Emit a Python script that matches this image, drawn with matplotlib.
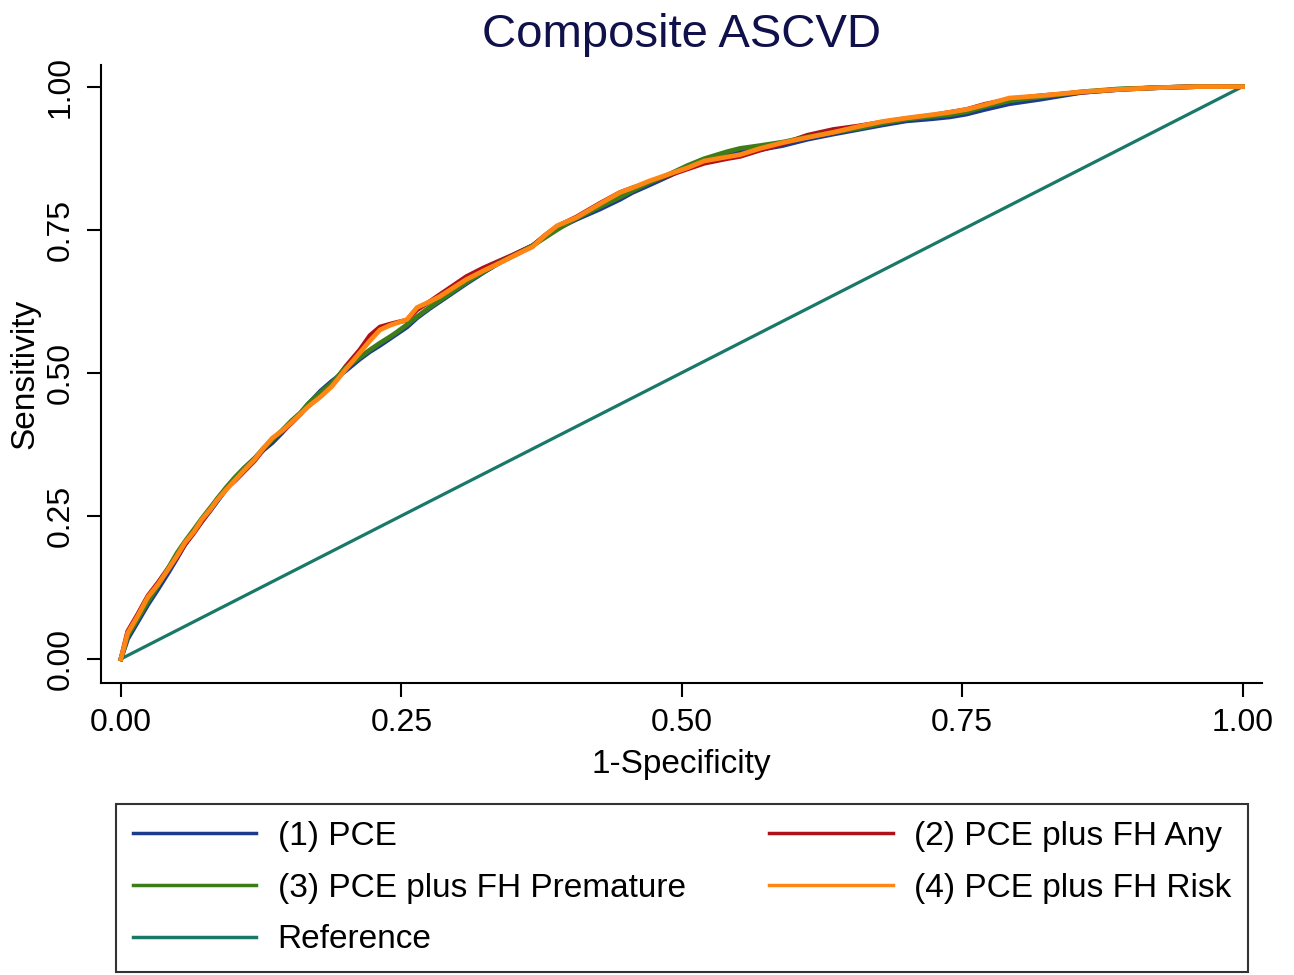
import matplotlib
matplotlib.use('Agg')
import matplotlib.pyplot as plt

plt.rcParams['font.family'] = ['Liberation Sans', 'DejaVu Sans']

# 1-Specificity grid shared by the four ROC curves
fpr = [0, 0.006, 0.015, 0.024, 0.033, 0.042, 0.050, 0.057, 0.065, 0.072,
       0.080, 0.086, 0.094, 0.102, 0.110, 0.119, 0.127, 0.135, 0.144, 0.152,
       0.160, 0.167, 0.178, 0.188, 0.200, 0.213, 0.222, 0.231, 0.240, 0.246,
       0.255, 0.264, 0.275, 0.284, 0.296, 0.308, 0.323, 0.338, 0.352, 0.367,
       0.378, 0.389, 0.406, 0.427, 0.445, 0.456, 0.471, 0.490, 0.505, 0.520,
       0.540, 0.552, 0.570, 0.590, 0.612, 0.635, 0.657, 0.679, 0.700, 0.724,
       0.739, 0.754, 0.770, 0.792, 0.820, 0.857, 0.890, 0.923, 0.960, 1.0]

sens_pce = [0, 0.035, 0.065, 0.095, 0.122, 0.150, 0.176, 0.200, 0.222, 0.240,
            0.260, 0.276, 0.297, 0.316, 0.333, 0.350, 0.365, 0.378, 0.396, 0.414,
            0.428, 0.445, 0.468, 0.485, 0.503, 0.524, 0.537, 0.548, 0.560, 0.568,
            0.580, 0.596, 0.612, 0.624, 0.640, 0.656, 0.675, 0.693, 0.708, 0.722,
            0.738, 0.752, 0.768, 0.786, 0.803, 0.815, 0.828, 0.845, 0.860, 0.872,
            0.882, 0.886, 0.890, 0.897, 0.908, 0.917, 0.925, 0.933, 0.940, 0.944,
            0.947, 0.952, 0.960, 0.970, 0.978, 0.990, 0.995, 0.998, 1.0, 1.0]

sens_any = [0, 0.048, 0.078, 0.110, 0.133, 0.158, 0.178, 0.200, 0.220, 0.240,
            0.262, 0.280, 0.298, 0.312, 0.328, 0.346, 0.366, 0.384, 0.398, 0.412,
            0.428, 0.442, 0.460, 0.478, 0.510, 0.540, 0.565, 0.580, 0.585, 0.588,
            0.592, 0.610, 0.624, 0.636, 0.652, 0.668, 0.683, 0.696, 0.708, 0.722,
            0.740, 0.756, 0.772, 0.796, 0.815, 0.823, 0.833, 0.846, 0.856, 0.866,
            0.874, 0.878, 0.889, 0.900, 0.915, 0.925, 0.931, 0.938, 0.944, 0.950,
            0.955, 0.960, 0.969, 0.978, 0.984, 0.990, 0.995, 0.998, 1.0, 1.0]

sens_premature = [0, 0.040, 0.070, 0.100, 0.128, 0.158, 0.185, 0.205, 0.226, 0.245,
                  0.265, 0.280, 0.300, 0.318, 0.334, 0.350, 0.368, 0.383, 0.400, 0.416,
                  0.430, 0.446, 0.466, 0.482, 0.508, 0.527, 0.540, 0.552, 0.563, 0.571,
                  0.584, 0.598, 0.614, 0.626, 0.642, 0.658, 0.676, 0.693, 0.706, 0.722,
                  0.736, 0.750, 0.770, 0.790, 0.807, 0.818, 0.832, 0.848, 0.862, 0.874,
                  0.886, 0.892, 0.897, 0.903, 0.912, 0.920, 0.927, 0.936, 0.943, 0.948,
                  0.951, 0.956, 0.965, 0.975, 0.982, 0.991, 0.996, 0.998, 1.0, 1.0]

sens_risk = [0, 0.045, 0.075, 0.108, 0.130, 0.156, 0.180, 0.203, 0.222, 0.243,
             0.262, 0.278, 0.296, 0.313, 0.330, 0.348, 0.368, 0.386, 0.399, 0.413,
             0.428, 0.441, 0.458, 0.476, 0.505, 0.535, 0.556, 0.575, 0.583, 0.587,
             0.593, 0.614, 0.624, 0.633, 0.648, 0.663, 0.678, 0.692, 0.706, 0.720,
             0.740, 0.757, 0.771, 0.795, 0.815, 0.823, 0.835, 0.848, 0.858, 0.870,
             0.877, 0.881, 0.892, 0.902, 0.911, 0.920, 0.930, 0.939, 0.945, 0.951,
             0.955, 0.960, 0.968, 0.980, 0.984, 0.991, 0.995, 0.998, 1.0, 1.0]

ref_x = [0, 1]
ref_y = [0, 1]

labels = ['(1) PCE', '(2) PCE plus FH Any', '(3) PCE plus FH Premature',
          '(4) PCE plus FH Risk', 'Reference']
colors = ['#1c3a8e', '#b01018', '#3d7d17', '#ff8614', '#197868']

fig = plt.figure(figsize=(12.94, 9.75), dpi=100)
ax = fig.add_axes([0.078, 0.2995, 0.897, 0.634])

h_ref, = ax.plot(ref_x, ref_y, color=colors[4], lw=2.3, label=labels[4])
h1, = ax.plot(fpr, sens_pce, color=colors[0], lw=3.4, label=labels[0])
h2, = ax.plot(fpr, sens_any, color=colors[1], lw=3.4, label=labels[1])
h3, = ax.plot(fpr, sens_premature, color=colors[2], lw=3.4, label=labels[2])
h4, = ax.plot(fpr, sens_risk, color=colors[3], lw=3.4, label=labels[3])

ax.set_xlim(-0.0178, 1.017)
ax.set_ylim(-0.042, 1.038)
ticks = [0, 0.25, 0.5, 0.75, 1.0]
ax.set_xticks(ticks)
ax.set_yticks(ticks)
ax.set_xticklabels(['0.00', '0.25', '0.50', '0.75', '1.00'])
ax.set_yticklabels(['0.00', '0.25', '0.50', '0.75', '1.00'],
                   rotation=90, va='center')
ax.tick_params(axis='both', length=10, width=1.5, labelsize=23, color='black')
ax.tick_params(axis='x', pad=8)
ax.tick_params(axis='y', pad=8)

for side in ['top', 'right']:
    ax.spines[side].set_visible(False)
for side in ['left', 'bottom']:
    ax.spines[side].set_linewidth(1.5)
    ax.spines[side].set_color('black')

ax.set_xlabel('1-Specificity', fontsize=24, labelpad=8)
ax.set_ylabel('Sensitivity', fontsize=24, labelpad=4)
ax.set_title('Composite ASCVD', fontsize=34, color='#10104a', pad=13)

leg = fig.legend([h1, h3, h_ref, h2, h4],
                 [labels[0], labels[2], labels[4], labels[1], labels[3]],
                 ncol=2, loc='lower left', mode='expand',
                 bbox_to_anchor=(0.0896, 0.003, 0.875, 0.1744),
                 bbox_transform=fig.transFigure, fontsize=24,
                 frameon=True, fancybox=False, handlelength=3.7,
                 handletextpad=0.65, labelspacing=0.62, borderpad=0.5,
                 borderaxespad=0.0)
leg.get_frame().set_edgecolor('black')
leg.get_frame().set_linewidth(1.5)
for line in leg.get_lines():
    line.set_linewidth(2.5)

fig.savefig('out.png', dpi=100)
